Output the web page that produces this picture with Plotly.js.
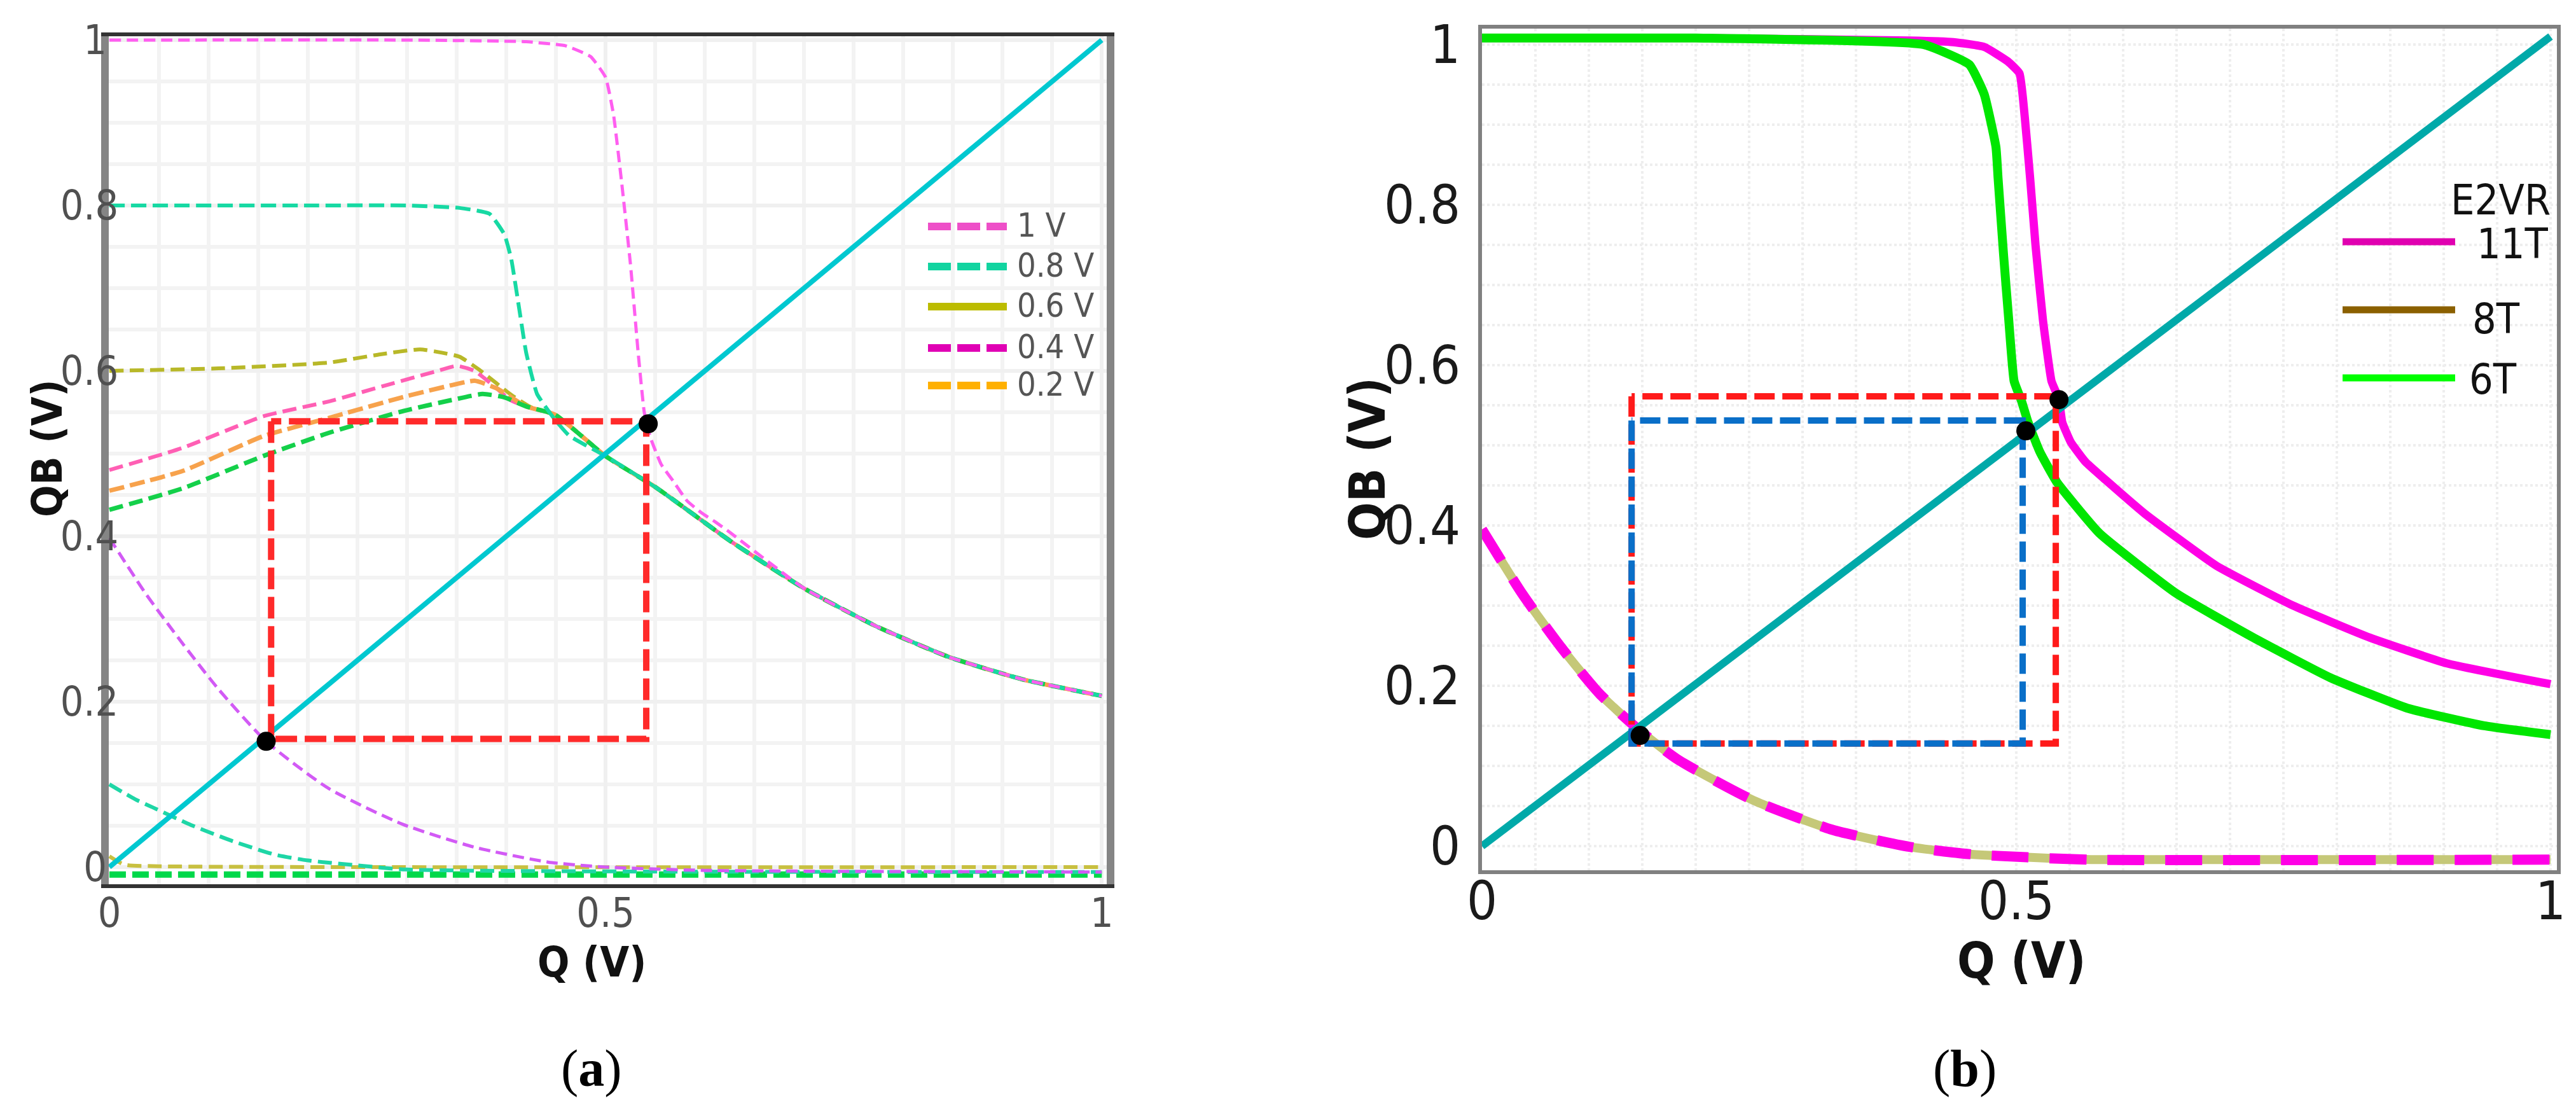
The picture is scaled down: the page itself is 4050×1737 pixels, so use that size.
<!DOCTYPE html>
<html>
<head>
<meta charset="utf-8">
<title>Butterfly curves (a) and (b)</title>
<script src="https://cdn.plot.ly/plotly-3.0.1.min.js"></script>
<style>
  html, body { margin: 0; padding: 0; background: #fff; }
  #chart { width: 4050px; height: 1737px; }
</style>
</head>
<body>
<div id="chart"></div>
<script>
// --- panel (a) data ---
const diagA_Q = [0, 1];
const diagA_QB = [0, 1];

// tail shared by the upper curves once they merge
const tailA_Q  = [0.449, 0.50, 0.552, 0.626, 0.70, 0.773, 0.846, 0.92, 1.0];
const tailA_QB = [0.547, 0.497, 0.458, 0.394, 0.337, 0.291, 0.254, 0.227, 0.207];

const v10_Q  = [0, 0.30, 0.42, 0.46, 0.485, 0.50, 0.508, 0.516, 0.525, 0.533, 0.539, 0.545, 0.556, 0.568, 0.582, 0.597, 0.611, 0.625, 0.70, 0.773, 0.846, 0.92, 1.0];
const v10_QB = [1.0, 1.0, 0.998, 0.993, 0.98, 0.955, 0.91, 0.83, 0.73, 0.62, 0.55, 0.52, 0.487, 0.467, 0.443, 0.428, 0.417, 0.405, 0.337, 0.291, 0.254, 0.227, 0.207];

const v08_Q  = [0, 0.20, 0.30, 0.353, 0.383, 0.398, 0.405, 0.413, 0.42, 0.431, 0.449, 0.463, 0.48];
const v08_QB = [0.80, 0.80, 0.80, 0.797, 0.79, 0.765, 0.735, 0.675, 0.622, 0.572, 0.541, 0.522, 0.51];

const v06_Q  = [0, 0.11, 0.221, 0.273, 0.313, 0.335, 0.353, 0.372, 0.39, 0.405, 0.425];
const v06_QB = [0.60, 0.603, 0.61, 0.62, 0.626, 0.622, 0.617, 0.602, 0.585, 0.571, 0.556];

const v04_Q  = [0, 0.074, 0.155, 0.221, 0.28, 0.331, 0.35, 0.368, 0.39, 0.405, 0.425];
const v04_QB = [0.48, 0.507, 0.545, 0.563, 0.583, 0.60, 0.606, 0.60, 0.579, 0.564, 0.555];

const v02_Q  = [0, 0.074, 0.155, 0.221, 0.295, 0.346, 0.368, 0.39, 0.42];
const v02_QB = [0.455, 0.479, 0.521, 0.543, 0.568, 0.583, 0.588, 0.579, 0.557];

const grn_Q  = [0, 0.074, 0.155, 0.221, 0.295, 0.346, 0.376, 0.398, 0.42];
const grn_QB = [0.432, 0.458, 0.497, 0.525, 0.551, 0.565, 0.572, 0.568, 0.557];

// lower curves
const vio_Q  = [0, 0.037, 0.074, 0.11, 0.158, 0.221, 0.295, 0.368, 0.442, 0.50, 0.60, 1.0];
const vio_QB = [0.398, 0.33, 0.27, 0.215, 0.152, 0.095, 0.052, 0.024, 0.006, 0.0, -0.004, -0.006];

const tealLo_Q  = [0, 0.026, 0.044, 0.082, 0.125, 0.167, 0.20, 0.25, 0.30, 1.0];
const tealLo_QB = [0.10, 0.082, 0.072, 0.051, 0.031, 0.015, 0.008, 0.002, -0.003, -0.006];

const oliveLo_Q  = [0, 0.015, 0.05, 1.0];
const oliveLo_QB = [0.013, 0.003, 0.001, 0.0];

const grnLo_Q  = [0, 1.0];
const grnLo_QB = [-0.009, -0.009];

// red box and the two crossing points
const boxA_Q  = [0.163, 0.163, 0.541, 0.541, 0.163];
const boxA_QB = [0.539, 0.155, 0.155, 0.539, 0.539];
const dotsA_Q  = [0.158, 0.543];
const dotsA_QB = [0.152, 0.536];

const legendA = ['1 V', '0.8 V', '0.6 V', '0.4 V', '0.2 V'];

// y tick labels of (a): "0" and "1" sit a little left of the others in the source
const yTicksA = [0, 0.2, 0.4, 0.6, 0.8, 1];
const yLabelsA = ['0\u00a0', '0.2', '0.4', '0.6', '0.8', '1\u00a0'];

// --- panel (b) data ---
const diagB_Q = [0, 1];
const diagB_QB = [0, 1.01];

const t11_Q  = [0, 0.20, 0.40, 0.441, 0.47, 0.492, 0.503, 0.508, 0.513, 0.518, 0.525, 0.533, 0.537, 0.540, 0.543, 0.551, 0.565, 0.586, 0.62, 0.687, 0.759, 0.831, 0.903, 1.0];
const t11_QB = [1.008, 1.008, 1.005, 1.003, 0.997, 0.979, 0.964, 0.909, 0.833, 0.75, 0.656, 0.58, 0.567, 0.557, 0.529, 0.504, 0.479, 0.454, 0.415, 0.35, 0.30, 0.26, 0.228, 0.202];

const t6_Q  = [0, 0.20, 0.413, 0.456, 0.47, 0.481, 0.483, 0.488, 0.493, 0.498, 0.505, 0.511, 0.522, 0.538, 0.578, 0.65, 0.722, 0.794, 0.866, 0.938, 1.0];
const t6_QB = [1.008, 1.008, 1.0, 0.975, 0.938, 0.872, 0.833, 0.74, 0.656, 0.58, 0.555, 0.529, 0.492, 0.454, 0.39, 0.315, 0.26, 0.21, 0.172, 0.15, 0.139];

const lowB_Q  = [0, 0.038, 0.074, 0.11, 0.146, 0.182, 0.254, 0.326, 0.35, 0.40, 0.455, 0.51, 0.57, 1.0];
const lowB_QB = [0.395, 0.314, 0.248, 0.19, 0.146, 0.109, 0.057, 0.021, 0.013, -0.001, -0.01, -0.014, -0.017, -0.017];

const boxRed_Q   = [0.14, 0.14, 0.537, 0.537, 0.14];
const boxRed_QB  = [0.561, 0.128, 0.128, 0.561, 0.561];
const boxBlue_Q  = [0.14, 0.14, 0.506, 0.506, 0.14];
const boxBlue_QB = [0.531, 0.128, 0.128, 0.531, 0.531];
const dotsB_Q  = [0.148, 0.509, 0.54];
const dotsB_QB = [0.138, 0.518, 0.557];

const legendB = ['11T', '8T', '6T'];

// --- page geometry (pixels -> paper) ---
const W = 4050, H = 1737;
const px = x => x / W;
const py = y => 1 - y / H;

const NARROW = '"Liberation Sans Narrow", "Arial Narrow", "DejaVu Sans Condensed", sans-serif';
const SERIF = '"Liberation Serif", "DejaVu Serif", serif';

function line(xs, ys, color, width, dash, axes, smooth) {
    return {
        x: xs, y: ys, type: 'scatter', mode: 'lines',
        xaxis: axes[0], yaxis: axes[1],
        line: {
            color: color, width: width, dash: dash || 'solid',
            shape: smooth ? 'spline' : 'linear', smoothing: smooth || 0
        },
        hoverinfo: 'skip'
    };
}

const A = ['x', 'y'];
const B = ['x2', 'y2'];

const data = [
    // (a) lower curves
    line(grnLo_Q, grnLo_QB, '#00d84a', 10, '26px,10px', A),
    line(oliveLo_Q, oliveLo_QB, '#c8c040', 6, '22px,10px', A, 0.6),
    line(tealLo_Q, tealLo_QB, '#1ed6a6', 6, '22px,10px', A, 0.6),
    line(vio_Q, vio_QB, '#d25af5', 5, '18px,9px', A, 0.6),
    // (a) upper curves
    line(v06_Q.concat(tailA_Q), v06_QB.concat(tailA_QB), '#b8b828', 6, '22px,10px', A, 0.5),
    line(v04_Q.concat(tailA_Q), v04_QB.concat(tailA_QB), '#ff5fb4', 6, '22px,10px', A, 0.5),
    line(v02_Q.concat(tailA_Q), v02_QB.concat(tailA_QB), '#f7a24c', 7, '24px,9px', A, 0.5),
    line(grn_Q.concat(tailA_Q), grn_QB.concat(tailA_QB), '#14d04a', 7, '22px,10px', A, 0.5),
    line(v08_Q.concat(tailA_Q.slice(1)), v08_QB.concat(tailA_QB.slice(1)), '#17d9a3', 6, '24px,10px', A, 0.4),
    line(v10_Q, v10_QB, '#ff5ef0', 5, '18px,9px', A, 0.4),
    line(diagA_Q, diagA_QB, '#00c8d0', 8, 'solid', A),
    line(boxA_Q, boxA_QB, '#ff2a2a', 10, '34px,12px', A),
    {
        x: dotsA_Q, y: dotsA_QB, type: 'scatter', mode: 'markers',
        xaxis: 'x', yaxis: 'y', marker: { color: '#000', size: 30 }, hoverinfo: 'skip'
    },

    // (b)
    line(lowB_Q, lowB_QB, '#c5c878', 14, 'solid', B, 0.6),
    line(lowB_Q, lowB_QB, '#ff00e6', 16, '58px,33px', B, 0.6),
    line(t11_Q, t11_QB, '#ff00e6', 13, 'solid', B, 0.4),
    line(t6_Q, t6_QB, '#00e600', 14, 'solid', B, 0.4),
    line(diagB_Q, diagB_QB, '#00a9a9', 12, 'solid', B),
    line(boxRed_Q, boxRed_QB, '#ff1a1a', 10, '32px,12px', B),
    line(boxBlue_Q, boxBlue_QB, '#0a6fc8', 10, '32px,12px', B),
    {
        x: dotsB_Q, y: dotsB_QB, type: 'scatter', mode: 'markers',
        xaxis: 'x2', yaxis: 'y2', marker: { color: '#000', size: 30 }, hoverinfo: 'skip'
    }
];

function axis(opts) {
    return Object.assign({
        showline: true, mirror: true, ticks: '', zeroline: false,
        showgrid: true, fixedrange: true
    }, opts);
}

const gridA = { showgrid: true, gridcolor: '#f3f3f3', gridwidth: 6, dtick: 0.05, tick0: 0 };
const gridB = { showgrid: true, gridcolor: '#eeeeee', gridwidth: 4, griddash: 'dot', dtick: 0.05, tick0: 0 };

const layout = {
    width: W, height: H,
    margin: { l: 0, r: 0, t: 0, b: 0 },
    paper_bgcolor: '#ffffff',
    plot_bgcolor: '#ffffff',
    showlegend: false,
    xaxis: axis({
        domain: [px(171), px(1740)], range: [-0.0006, 1.005], anchor: 'y',
        dtick: 0.5, tick0: 0, gridcolor: '#f0f0f0', gridwidth: 6, minor: gridA,
        linecolor: '#333333', linewidth: 6,
        tickfont: { family: NARROW, size: 64, color: '#505050' }, ticklabelstandoff: -16
    }),
    yaxis: axis({
        domain: [py(1390), py(57)], range: [-0.0208, 1.0046], anchor: 'x',
        tickmode: 'array', tickvals: yTicksA, ticktext: yLabelsA,
        gridcolor: '#f0f0f0', gridwidth: 6, minor: gridA,
        linecolor: '#858585', linewidth: 12,
        tickfont: { family: NARROW, size: 64, color: '#505050' }, ticklabelstandoff: -40
    }),
    xaxis2: axis({
        domain: [px(2330), px(4020)], range: [0, 1.006], anchor: 'y2',
        dtick: 0.5, tick0: 0, gridcolor: '#eeeeee', gridwidth: 4, griddash: 'dot', minor: gridB,
        linecolor: '#808080', linewidth: 6,
        tickfont: { family: NARROW, size: 84, color: '#1a1a1a' }, ticklabelstandoff: -30
    }),
    yaxis2: axis({
        domain: [py(1368), py(45)], range: [-0.0302, 1.0198], anchor: 'x2',
        dtick: 0.2, tick0: 0, gridcolor: '#eeeeee', gridwidth: 4, griddash: 'dot', minor: gridB,
        linecolor: '#808080', linewidth: 6,
        tickfont: { family: NARROW, size: 84, color: '#1a1a1a' }, ticklabelstandoff: 11
    }),
    shapes: [],
    annotations: []
};

// axis titles and panel captions
const titleFontA = { family: NARROW, size: 66, color: '#111111', weight: 'bold' };
const titleFontB = { family: NARROW, size: 78, color: '#111111', weight: 'bold' };
const captionFont = { family: SERIF, size: 82, color: '#000000' };
layout.annotations.push(
    { text: '<b>QB (V)</b>', x: px(75), y: py(705), textangle: -90, font: titleFontA },
    { text: '<b>Q (V)</b>', x: px(930), y: py(1512), font: titleFontA },
    { text: '<b>QB (V)</b>', x: px(2150), y: py(721), textangle: -90, font: titleFontB },
    { text: '<b>Q (V)</b>', x: px(3178), y: py(1510), font: titleFontB },
    { text: '(<b>a</b>)', x: px(930), y: py(1679), font: captionFont },
    { text: '(<b>b</b>)', x: px(3089), y: py(1679), font: captionFont }
);

// legend (a): long dashed samples, drawn by hand
const legA_colors = ['#ee4fc8', '#12d4a0', '#bcbc00', '#e000b4', '#ffb000'];
const legA_dash = ['36px,10px', '36px,10px', 'solid', '36px,10px', '36px,10px'];
const legA_y = [356, 419, 482, 547, 606];
legendA.forEach((name, i) => {
    layout.shapes.push({
        type: 'line', xref: 'paper', yref: 'paper',
        x0: px(1459), x1: px(1583), y0: py(legA_y[i]), y1: py(legA_y[i]),
        line: { color: legA_colors[i], width: 12, dash: legA_dash[i] }
    });
    layout.annotations.push({
        text: name, x: px(1597), y: py(legA_y[i] - 2), xanchor: 'left',
        font: { family: NARROW, size: 52, color: '#555555' }
    });
});

// legend (b)
const legB_colors = ['#e000b0', '#8b6000', '#00ff00'];
const legB_line = [380, 487, 594];
const legB_text = [383, 502, 597];
const legB_textX = [3892, 3885, 3880];
layout.annotations.push({
    text: 'E2VR', x: px(4012), y: py(315), xanchor: 'right',
    font: { family: NARROW, size: 66, color: '#111111' }
});
legendB.forEach((name, i) => {
    layout.shapes.push({
        type: 'line', xref: 'paper', yref: 'paper',
        x0: px(3683), x1: px(3860), y0: py(legB_line[i]), y1: py(legB_line[i]),
        line: { color: legB_colors[i], width: 11 }
    });
    layout.annotations.push({
        text: name, x: px(legB_textX[i]), y: py(legB_text[i]), xanchor: 'left',
        font: { family: NARROW, size: 66, color: '#111111' }
    });
});

layout.annotations.forEach(a => {
    a.xref = 'paper'; a.yref = 'paper'; a.showarrow = false;
    a.xanchor = a.xanchor || 'center';
    a.yanchor = 'middle';
});

Plotly.newPlot('chart', data, layout, { displayModeBar: false, staticPlot: true });
</script>
</body>
</html>
